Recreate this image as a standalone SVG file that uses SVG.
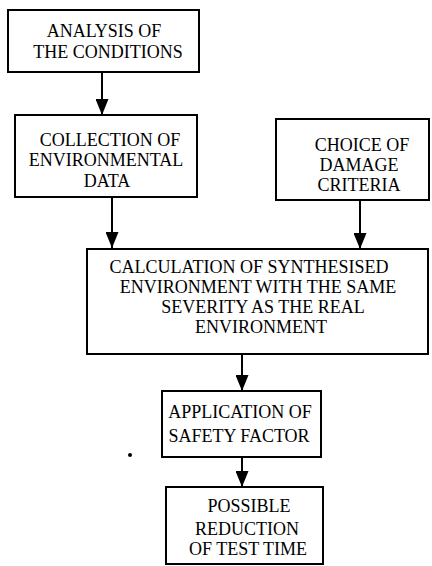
<svg xmlns="http://www.w3.org/2000/svg" width="432" height="566" viewBox="0 0 432 566">
<style>
.box{fill:#fff;stroke:#000;stroke-width:2}
.t{font-family:"Liberation Serif","Times New Roman",serif;font-size:18px;fill:#000;text-anchor:middle}
.ln{stroke:#000;stroke-width:2;fill:none}
</style>
<defs>
<marker id="a2" markerUnits="userSpaceOnUse" markerWidth="16" markerHeight="13" refX="16" refY="6.5" orient="auto" viewBox="0 0 16 13">
<path d="M0,0 L16,6.5 L0,13 Z" fill="#000"/>
</marker>
</defs>
<rect width="432" height="566" fill="#fff"/>
<g id="connectors">
<line class="ln" x1="102" y1="72" x2="102" y2="115" marker-end="url(#a2)"/>
<line class="ln" x1="112" y1="197" x2="112" y2="248" marker-end="url(#a2)"/>
<line class="ln" x1="360" y1="200" x2="360" y2="249" marker-end="url(#a2)"/>
<line class="ln" x1="242" y1="354" x2="242" y2="391" marker-end="url(#a2)"/>
<line class="ln" x1="242" y1="457" x2="242" y2="487" marker-end="url(#a2)"/>
</g>
<g id="n1">
<rect class="box" x="8" y="10" width="191" height="62"/>
<text class="t" x="104" y="37">ANALYSIS OF</text>
<text class="t" x="108" y="58">THE CONDITIONS</text>
</g>
<g id="n2">
<rect class="box" x="15" y="115" width="182" height="82"/>
<text class="t" x="110" y="146">COLLECTION OF</text>
<text class="t" x="106" y="166">ENVIRONMENTAL</text>
<text class="t" x="107" y="187">DATA</text>
</g>
<g id="n3">
<rect class="box" x="276" y="119" width="153" height="81"/>
<text class="t" x="362" y="151">CHOICE OF</text>
<text class="t" x="359" y="171">DAMAGE</text>
<text class="t" x="359" y="191">CRITERIA</text>
</g>
<g id="n4">
<rect class="box" x="87" y="249" width="341" height="105"/>
<text class="t" x="249" y="273">CALCULATION OF SYNTHESISED</text>
<text class="t" x="258" y="293">ENVIRONMENT WITH THE SAME</text>
<text class="t" x="263" y="313">SEVERITY AS THE REAL</text>
<text class="t" x="261" y="333">ENVIRONMENT</text>
</g>
<g id="n5">
<rect class="box" x="162" y="391" width="159" height="66"/>
<text class="t" x="240" y="418">APPLICATION OF</text>
<text class="t" x="239" y="442">SAFETY FACTOR</text>
</g>
<g id="n6">
<rect class="box" x="166" y="487" width="157" height="77"/>
<text class="t" x="249" y="512">POSSIBLE</text>
<text class="t" x="247" y="535">REDUCTION</text>
<text class="t" x="248" y="555">OF TEST TIME</text>
</g>
<circle cx="130" cy="455" r="2" fill="#000"/>
</svg>
